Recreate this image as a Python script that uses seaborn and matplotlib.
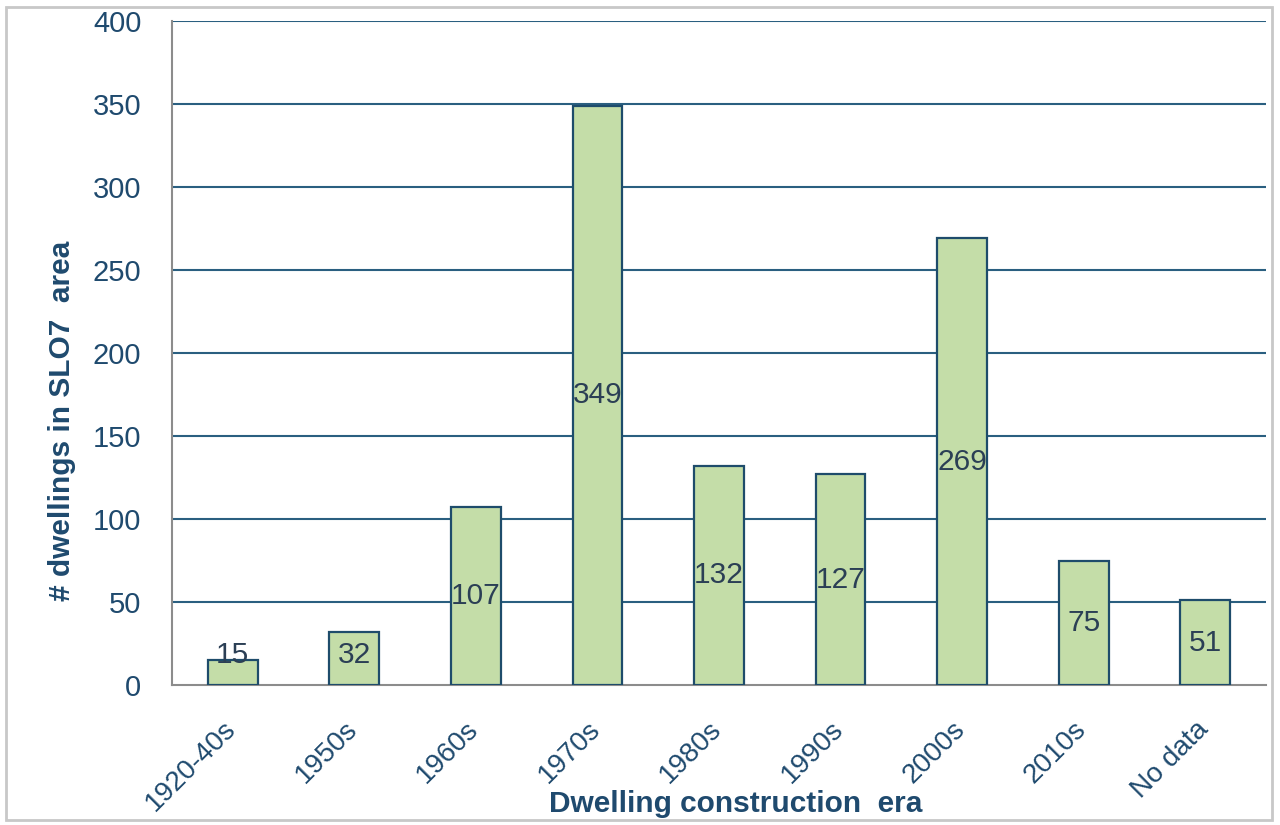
import matplotlib
matplotlib.use("Agg")
import matplotlib.pyplot as plt
import matplotlib.transforms as mtransforms
import seaborn as sns
import pandas as pd
from matplotlib.patches import Rectangle

eras = ["1920-40s", "1950s", "1960s", "1970s", "1980s", "1990s", "2000s", "2010s", "No data"]
counts = [15, 32, 107, 349, 132, 127, 269, 75, 51]
yticks = [0, 50, 100, 150, 200, 250, 300, 350, 400]

TEXT = "#1F4A6E"
GRID = "#2A5F80"
BAR = "#C4DDA8"
EDGE = "#1E4C6B"

sns.set_theme(style="white")
plt.rcParams["font.family"] = ["Liberation Sans", "DejaVu Sans"]

fig = plt.figure(figsize=(12.8, 8.25), dpi=100)
ax = fig.add_axes([172/1280, 1-685/825, (1266-172)/1280, (685-21)/825])

df = pd.DataFrame({"era": eras, "count": counts})
sns.barplot(data=df, x="era", y="count", ax=ax, color=BAR, edgecolor=EDGE,
            linewidth=1.6, width=0.41, saturation=1, zorder=3)

ax.set_ylim(0, 400)
ax.set_xlim(-0.5, len(eras) - 0.5)
ax.set_yticks(yticks)
ax.set_yticklabels([str(t) for t in yticks], fontsize=21, color=TEXT)
for t in yticks[1:]:
    ax.axhline(t, color=GRID, linewidth=1.5, zorder=1)

ax.set_xticks(range(len(eras)))
ax.set_xticklabels(eras, rotation=45, ha="right", va="center", rotation_mode="anchor",
                   fontsize=20, color=TEXT)
ax.tick_params(axis="x", which="major", length=0, pad=29)
shift = mtransforms.ScaledTranslation(-1/100, 0, fig.dpi_scale_trans)
for lbl in ax.get_xticklabels():
    lbl.set_transform(lbl.get_transform() + shift)
ax.set_xticks([i - 0.5 for i in range(len(eras) + 1)], minor=True)
ax.tick_params(axis="x", which="minor", length=8, width=1.5, color="#8C8C8C", direction="out")
ax.tick_params(axis="y", which="major", length=8, width=1.5, color="#8C8C8C", direction="out", pad=14)

for side in ["top", "right"]:
    ax.spines[side].set_visible(False)
for side in ["left", "bottom"]:
    ax.spines[side].set_color("#8C8C8C")
    ax.spines[side].set_linewidth(1.5)

for i, v in enumerate(counts):
    ax.text(i, max(v / 2, 18), str(v), ha="center", va="center", fontsize=21.5,
            color="#2B3F55", zorder=5)

ax.set_xlabel("Dwelling construction  era", fontsize=21.5, fontweight="bold", color=TEXT)
ax.xaxis.set_label_coords((736 - 172) / 1094, (685 - 790) / 664)
ax.xaxis.label.set_va("top")
ax.set_ylabel("# dwellings in SLO7  area", fontsize=21.5, fontweight="bold", color=TEXT)
ax.yaxis.set_label_coords((76 - 172) / 1094, (685 - 421) / 664)

fig.patches.append(Rectangle((6/1280, 5/825), 1266/1280, 813/825, transform=fig.transFigure,
                             fill=False, edgecolor="#C8C8C8", linewidth=2))

fig.savefig("out.png", dpi=100)
